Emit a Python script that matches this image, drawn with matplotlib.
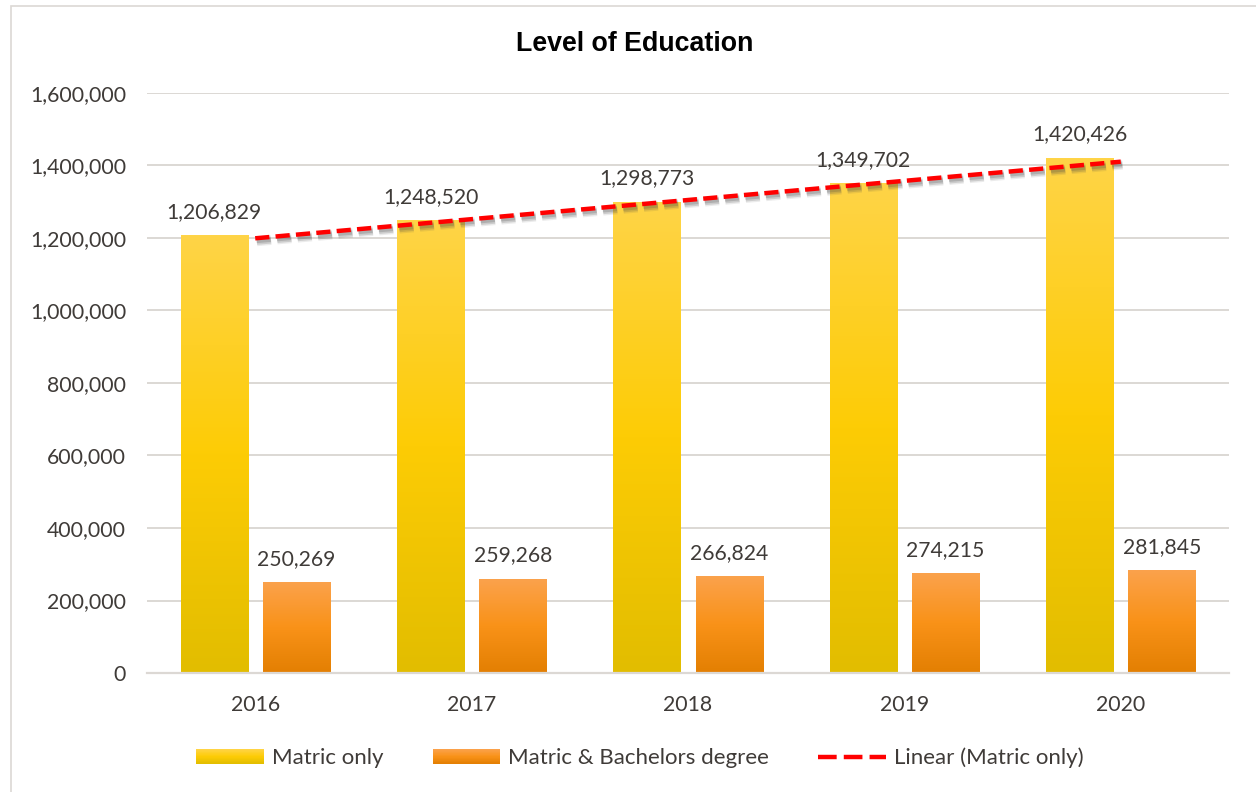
import numpy as np
import matplotlib
matplotlib.use("Agg")
import matplotlib.pyplot as plt
from matplotlib.colors import LinearSegmentedColormap
from matplotlib.patches import Patch, Rectangle
from matplotlib.lines import Line2D
from matplotlib.legend_handler import HandlerBase
import matplotlib.patheffects as pe
from matplotlib.ticker import FuncFormatter, MultipleLocator

# Data
years = ["2016", "2017", "2018", "2019", "2020"]
matric_only = [1206829, 1248520, 1298773, 1349702, 1420426]
matric_bachelors = [250269, 259268, 266824, 274215, 281845]
series_names = ["Matric only", "Matric & Bachelors degree", "Linear (Matric only)"]
title = "Level of Education"

TEXT = "#3f3b38"
GRID = "#dcd8d4"
FONT = "Lato"

W, H = 1256, 792
fig = plt.figure(figsize=(W / 100, H / 100), dpi=100)
fig.patch.set_facecolor("white")

# chart frame (runs past the right/bottom edges)
fig.add_artist(Rectangle((10.5 / W, -0.1), 1.2, 1 - 5.5 / H + 0.1,
                         transform=fig.transFigure, fill=False,
                         edgecolor=GRID, lw=1.2))

ax = fig.add_axes([147 / W, 1 - 673 / H, (1229 - 147) / W, (673 - 93) / H])
ax.set_facecolor("none")

x = np.arange(len(years))
width = 0.31
off = 0.19

yellow_cmap = LinearSegmentedColormap.from_list(
    "yel", [(0.0, "#e2bd00"), (0.5, "#fdcc05"), (1.0, "#ffd447")])
orange_cmap = LinearSegmentedColormap.from_list(
    "org", [(0.0, "#e37f02"), (0.5, "#f99218"), (1.0, "#fba24c")])

bars_y = ax.bar(x - off, matric_only, width, color="none", zorder=3)
bars_o = ax.bar(x + off, matric_bachelors, width, color="none", zorder=3)

grad = np.linspace(0, 1, 256).reshape(-1, 1)
for bars, cmap in ((bars_y, yellow_cmap), (bars_o, orange_cmap)):
    for b in bars:
        x0, w, h = b.get_x(), b.get_width(), b.get_height()
        ax.imshow(grad, cmap=cmap, origin="lower", aspect="auto",
                  extent=[x0, x0 + w, 0, h], zorder=2, interpolation="bilinear")

# value labels
for bars, vals in ((bars_y, matric_only), (bars_o, matric_bachelors)):
    for b, v in zip(bars, vals):
        ax.annotate(f"{v:,}", (b.get_x() + b.get_width() / 2, v),
                    xytext=(0, 17), textcoords="offset points",
                    ha="center", va="center", fontsize=15.2,
                    color=TEXT, family=FONT, zorder=5)

# linear trendline for Matric only, with a soft drop shadow
coef = np.polyfit(x + 1, matric_only, 1)
trend = np.polyval(coef, x + 1)
shadow = [pe.SimpleLineShadow(offset=(1.2, -2.2), shadow_color="#444444",
                              alpha=0.10, linewidth=7),
          pe.SimpleLineShadow(offset=(1.2, -2.2), shadow_color="#444444",
                              alpha=0.18, linewidth=5),
          pe.SimpleLineShadow(offset=(1.0, -2.0), shadow_color="#444444",
                              alpha=0.22, linewidth=3),
          pe.Normal()]
ax.plot(x, trend, color="#ff0000", lw=3.2, dashes=(3.2, 1.4),
        dash_capstyle="butt", zorder=4, path_effects=shadow)

ax.set_xlim(-0.5, len(years) - 0.5)
ax.set_ylim(0, 1600000)
ax.yaxis.set_major_locator(MultipleLocator(200000))
ax.yaxis.set_major_formatter(FuncFormatter(lambda v, p: f"{int(v):,}"))
ax.set_xticks(x)
ax.set_xticklabels(years)
ax.grid(axis="y", color=GRID, lw=1.4, zorder=0)
ax.set_axisbelow(True)
for s in ("top", "right", "left"):
    ax.spines[s].set_visible(False)
ax.spines["bottom"].set_color(GRID)
ax.spines["bottom"].set_linewidth(1.6)
ax.tick_params(axis="both", length=0, labelsize=15.3, labelcolor=TEXT)
ax.tick_params(axis="y", pad=15)
ax.tick_params(axis="x", pad=16)
for lab in ax.get_xticklabels() + ax.get_yticklabels():
    lab.set_family(FONT)

fig.text(635 / W, 1 - 44 / H, title, ha="center", va="center",
         fontsize=19.3, fontweight="bold", family="Liberation Sans", color="black")


class GradientHandler(HandlerBase):
    """Legend key drawn as a vertical colour gradient."""

    def __init__(self, cmap, steps=24):
        super().__init__()
        self.cmap = cmap
        self.steps = steps

    def create_artists(self, legend, orig_handle, xdescent, ydescent,
                       width, height, fontsize, trans):
        artists = []
        dh = height / self.steps
        for i in range(self.steps):
            c = self.cmap((i + 0.5) / self.steps)
            artists.append(Rectangle((-xdescent, -ydescent + i * dh), width,
                                     dh * 1.05, facecolor=c, edgecolor="none",
                                     transform=trans))
        return artists


h_yellow = Patch(facecolor="#fdcc10")
h_orange = Patch(facecolor="#f99220")
h_trend = Line2D([0], [0], color="#ff0000", lw=3.2, dashes=(4.2, 1.6))
fig.legend([h_yellow, h_orange, h_trend], series_names, loc="center",
           bbox_to_anchor=(640 / W, 1 - 758 / H),
           ncol=3, frameon=False, prop={"family": FONT, "size": 16},
           labelcolor=TEXT, handlelength=3.05, handleheight=0.62,
           handletextpad=0.36, columnspacing=2.2,
           handler_map={h_yellow: GradientHandler(yellow_cmap),
                        h_orange: GradientHandler(orange_cmap)})

fig.savefig("out.png", dpi=100, facecolor="white")
